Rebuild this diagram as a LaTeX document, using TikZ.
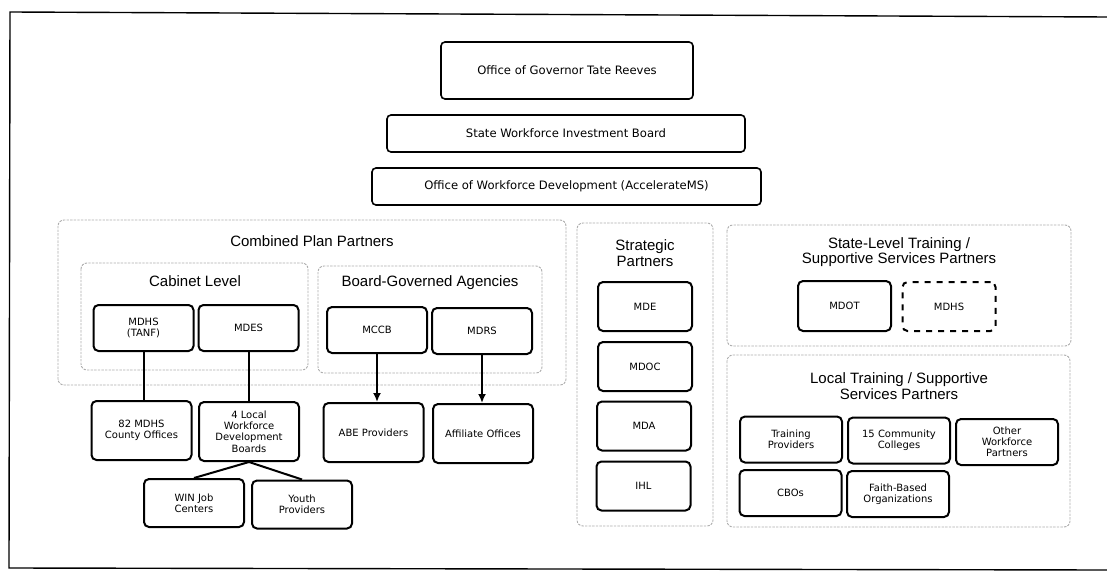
\documentclass[tikz,border=0pt]{standalone}
\usepackage{fontspec}
\setmainfont{Liberation Sans}
\newfontfamily\boxfont{DejaVu Sans}
\usetikzlibrary{arrows.meta}

\begin{document}
\begin{tikzpicture}[x=0.5pt, y=-0.5pt,
			top_box/.style   = {draw, black, line width=0.8pt, rounded corners=2pt, inner sep=1pt, font=\boxfont\fontsize{5.8}{7}\selectfont},
			unit_box/.style  = {draw, black, line width=1pt, rounded corners=2.5pt, align=center, inner sep=1pt, minimum width=50pt, minimum height=23pt, font=\boxfont\fontsize{5}{5.6}\selectfont},
			group_box/.style = {draw=gray!65, line width=0.45pt, dash pattern=on 1.2pt off 0.6pt, rounded corners=3pt},
			group_title/.style = {align=center, font=\fontsize{7.5}{7.7}\selectfont},
			link/.style      = {black, line width=1pt},]

			\useasboundingbox (0,0) rectangle (1107,577);
			% OUTER FRAME (open on the right)
			\draw[black, line width=0.7pt] (1107,17) -- (10,12) -- (9,568) -- (1107,570);

			%% TOP OF THE CHAIN
			\node[top_box, minimum width=126pt, minimum height=28.5pt] (gov) at (567,70.5) {Office of Governor Tate Reeves};
			\node[top_box, minimum width=179pt, minimum height=18.5pt] (swib) at (566,133.5) {State Workforce Investment Board};
			\node[top_box, minimum width=194.5pt, minimum height=18.5pt] (owd) at (566.5,186.5) {Office of Workforce Development (AccelerateMS)};

			%% COMBINED PLAN PARTNERS
			\draw[group_box] (58,220) rectangle (566,385);
			\node[group_title] (cpp_title) at (312,241) {Combined Plan Partners};
			\draw[group_box] (81,263) rectangle (308,370);
			\node[group_title] (cab_title) at (195,281) {Cabinet Level};
			\draw[group_box] (318,266) rectangle (542,373);
			\node[group_title] (bga_title) at (430,283) {Board-Governed Agencies};

			\node[unit_box] (mdhs_tanf) at (143.5,328) {MDHS\\(TANF)};
			\node[unit_box] (mdes) at (248.5,328) {MDES};
			\node[unit_box] (mccb) at (377,330) {MCCB};
			\node[unit_box] (mdrs) at (482,331) {MDRS};

			\node[unit_box, minimum height=29.5pt] (county) at (141.5,430.5) {82 MDHS\\County Offices};
			\node[unit_box, minimum height=29.5pt] (lwdb) at (249,431.5) {4 Local\\Workforce\\Development\\Boards};
			\node[unit_box, minimum height=29.5pt] (abe) at (373.5,432.5) {ABE Providers};
			\node[unit_box, minimum height=29.5pt] (affil) at (483,433.5) {Affiliate Offices};
			\node[unit_box, minimum height=24pt] (win) at (194,503) {WIN Job\\Centers};
			\node[unit_box, minimum height=24pt] (youth) at (302,504.5) {Youth\\Providers};

			\draw[link] (mdhs_tanf.south) -- (mdhs_tanf.south |- county.north);
			\draw[link] (mdes.south) -- (mdes.south |- lwdb.north);
			\draw[link, >={Latex[length=4.5pt,width=4pt]}, ->] (mccb.south) -- (mccb.south |- abe.north);
			\draw[link, >={Latex[length=4.5pt,width=4pt]}, ->] (mdrs.south) -- (mdrs.south |- affil.north);
			\draw[link] (lwdb.south) -- (win.north);
			\draw[link] (lwdb.south) -- (youth.north);

			%% STRATEGIC PARTNERS
			\draw[group_box] (577,223) rectangle (713,526);
			\node[group_title] (sp_title) at (645,253) {Strategic\\Partners};
			\node[unit_box, minimum width=47pt, minimum height=24.5pt] (mde) at (645,306.5) {MDE};
			\node[unit_box, minimum width=47pt, minimum height=24.5pt] (mdoc) at (645,366.5) {MDOC};
			\node[unit_box, minimum width=47pt, minimum height=24.5pt] (mda) at (644,426) {MDA};
			\node[unit_box, minimum width=47pt, minimum height=24.5pt] (ihl) at (643.5,486) {IHL};

			%% STATE-LEVEL TRAINING
			\draw[group_box] (727,225) rectangle (1071,346);
			\node[group_title] (st_title) at (899,252) {State-Level Training /\\Supportive Services Partners};
			\node[unit_box, minimum width=46.5pt, minimum height=25pt] (mdot) at (844.5,306) {MDOT};
			\node[unit_box, minimum width=46.5pt, minimum height=24.5pt, dashed] (mdhs_st) at (949,306.5) {MDHS};

			%% LOCAL TRAINING
			\draw[group_box] (727,355) rectangle (1070,527);
			\node[group_title] (lt_title) at (899,386) {Local Training / Supportive\\Services Partners};
			\node[unit_box, minimum width=51pt] (train) at (791,439.5) {Training\\Providers};
			\node[unit_box, minimum width=51pt] (ccoll) at (899,440.5) {15 Community\\Colleges};
			\node[unit_box, minimum width=51pt] (other) at (1007,442) {Other\\Workforce\\Partners};
			\node[unit_box, minimum width=51pt] (cbo) at (790.5,493) {CBOs};
			\node[unit_box, minimum width=51pt] (faith) at (898,494) {Faith-Based\\Organizations};
\end{tikzpicture}
\end{document}
